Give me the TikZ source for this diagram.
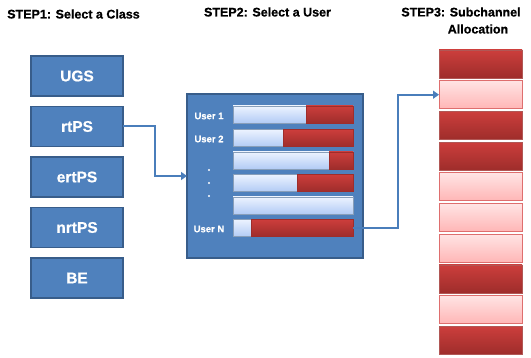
\documentclass[tikz,border=0pt]{standalone}
\usepackage{fontspec}
\setmainfont{Liberation Sans}[BoldFeatures={FakeBold=0.6}]
\usetikzlibrary{arrows.meta,positioning}

\definecolor{classblue}{RGB}{79,129,189}
\definecolor{classedge}{RGB}{56,93,138}
\definecolor{flowblue}{RGB}{74,126,187}
\definecolor{darkred}{RGB}{204,62,60}
\definecolor{darkredb}{RGB}{158,45,43}
\definecolor{pinktop}{RGB}{255,228,228}
\definecolor{pinkbot}{RGB}{255,182,182}
\definecolor{pinkedge}{RGB}{222,110,110}
\definecolor{bartop}{RGB}{236,243,255}
\definecolor{barbot}{RGB}{178,203,245}

\tikzset{
  steptitle/.style={font=\fontsize{12.5}{14}\selectfont\bfseries, inner sep=0pt},
  classbox/.style={draw=classedge, line width=1.3pt, fill=classblue, minimum width=92, minimum height=40,
    text=white, font=\fontsize{15.5}{17}\selectfont\bfseries, outer sep=0pt},
  userpanel/.style={draw=classedge, line width=1.3pt, fill=classblue, minimum width=176, minimum height=164, outer sep=0pt},
  ubar/.style={draw=classedge!60, line width=0.5pt, top color=bartop, bottom color=barbot, minimum width=120, minimum height=17, inner sep=0pt, outer sep=0pt},
  redseg/.style={draw=darkredb, line width=0.5pt, top color=darkred, bottom color=darkredb, minimum height=17, inner sep=0pt, outer sep=0pt},
  ulabel/.style={text=white, font=\fontsize{9.5}{11}\selectfont\bfseries, inner sep=0pt},
  subfull/.style={draw=darkredb!80, line width=0.7pt, top color=darkred, bottom color=darkredb, minimum width=83, minimum height=28, outer sep=0pt},
  subfree/.style={draw=pinkedge, line width=0.7pt, top color=pinktop, bottom color=pinkbot, minimum width=83, minimum height=28, outer sep=0pt},
  flow/.style={draw=flowblue, line width=2pt, -{Triangle[length=6pt,width=8pt]}}
}

\begin{document}
\begin{tikzpicture}[x=1pt,y=-1pt]
  \useasboundingbox (0,0) rectangle (531,358);

  % Titles
  \node[steptitle] (step1) at (73.5,14) {STEP1: Select a Class};
  \node[steptitle] (step2) at (267.5,12) {STEP2: Select a User};
  \node[steptitle] (step3) at (461,12) {STEP3: Subchannel};
  \node[steptitle] (step3b) at (478,29) {Allocation};

  % Step 1: service classes
  \node[classbox] (ugs) at (77,76) {UGS};
  \node[classbox] (rtps) at (77,126.5) {rtPS};
  \node[classbox] (ertps) at (77,177) {ertPS};
  \node[classbox] (nrtps) at (77,227.5) {nrtPS};
  \node[classbox] (be) at (77,278) {BE};

  % Step 2: users
  \node[userpanel] (panel) at (275,176) {};
  \foreach \i/\yy/\red in {1/114.5/47, 2/138/70, 3/160.5/24, 4/183/56, 5/205.5/0, 6/228/102}{
    \node[ubar] (bar\i) at (293,\yy) {};
    \ifnum\red>0
      \node[redseg, minimum width=\red, anchor=east] (red\i) at (bar\i.east) {};
    \fi
  }
  \node[ulabel] (user1) at (209,116) {User 1};
  \node[ulabel] (user2) at (209,139) {User 2};
  \node[ulabel] (userN) at (209,229) {User N};
  \foreach \yy in {170,183,196}
    \fill[white] (209,\yy) circle (1.2);

  % Step 3: subchannels
  \foreach \i/\kind in {1/subfull, 2/subfree, 3/subfull, 4/subfull, 5/subfree, 6/subfree, 7/subfree, 8/subfull, 9/subfree, 10/subfull}
    \node[\kind] (sc\i) at (480.5,{64+(\i-1)*30.7}) {};

  % Connectors
  \draw[flow] (rtps.east) -- ++(32,0) |- (panel.west);
  \draw[flow] (bar6.east) -- ++(45,0) |- (sc2.west);

\end{tikzpicture}
\end{document}
